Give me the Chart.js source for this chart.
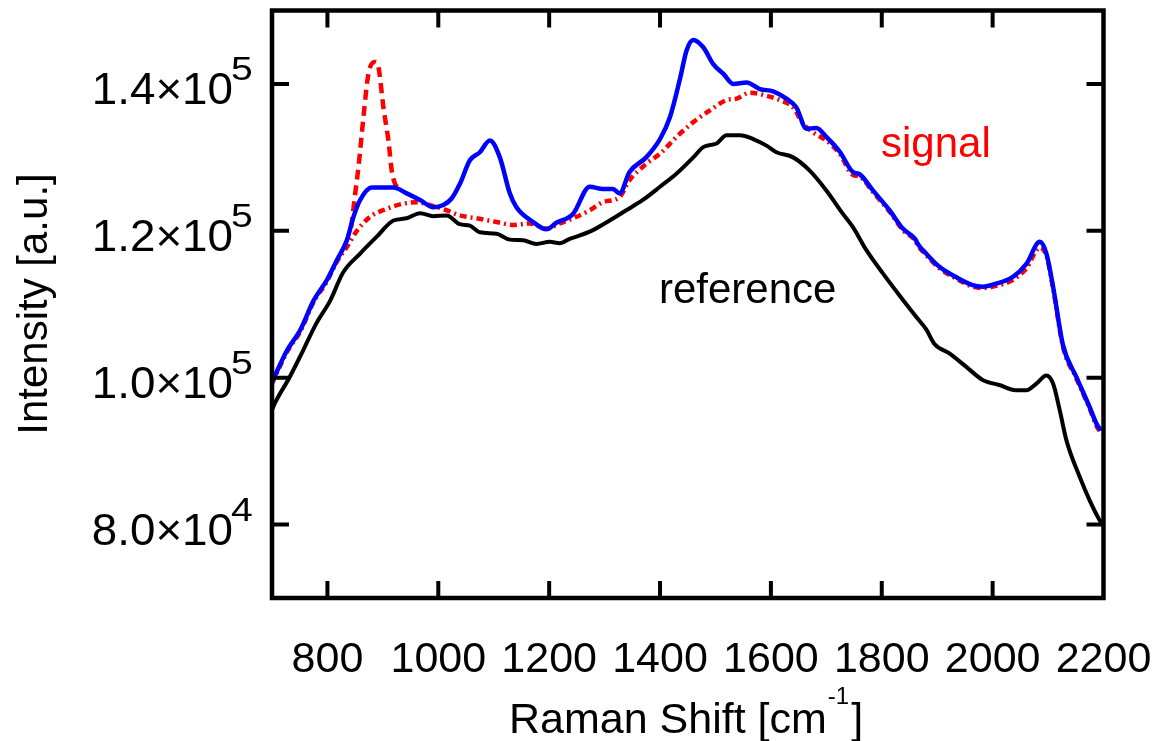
<!DOCTYPE html>
<html>
<head>
<meta charset="utf-8">
<script src="https://cdn.jsdelivr.net/npm/chart.js@4.4.1/dist/chart.umd.min.js"></script>
<style>
  html, body { margin: 0; padding: 0; background: #fff; }
  #wrap { width: 1156px; height: 741px; }
</style>
</head>
<body>
<div id="wrap"><canvas id="raman" width="1156" height="741"></canvas></div>
<script>
// reference spectrum (black)
const refShift = [700, 705, 732, 756, 780, 805, 828, 859, 889, 919, 943, 967, 991, 1015, 1039, 1057, 1075, 1105, 1129, 1153, 1177, 1201, 1219, 1237, 1249, 1279, 1309, 1339, 1369, 1400, 1430, 1460, 1478, 1502, 1520, 1544, 1568, 1592, 1610, 1640, 1670, 1700, 1730, 1748, 1772, 1802, 1832, 1862, 1880, 1895, 1922, 1952, 1982, 2012, 2042, 2061, 2079, 2097, 2109, 2121, 2133, 2157, 2175, 2193, 2200];
const refIntensity = [95600, 96500, 100100, 103700, 107400, 110500, 114300, 116900, 119200, 121400, 121700, 122400, 122000, 122100, 120900, 120700, 119800, 119600, 118800, 118700, 118200, 118500, 118300, 118900, 119200, 120100, 121400, 122800, 124200, 126000, 127800, 130000, 131400, 131900, 133000, 133000, 132500, 131600, 130700, 130000, 128200, 125500, 122300, 120500, 117400, 114200, 111200, 108300, 106600, 104600, 103300, 101500, 99700, 99000, 98300, 98300, 99200, 100300, 99200, 95600, 91500, 86500, 83300, 80600, 79800];

// measured spectrum (blue)
const specShift = [700, 727, 751, 775, 799, 817, 835, 847, 859, 880, 919, 943, 967, 991, 1009, 1024, 1039, 1057, 1075, 1093, 1111, 1129, 1141, 1171, 1195, 1213, 1243, 1273, 1297, 1315, 1327, 1345, 1375, 1400, 1418, 1436, 1448, 1460, 1478, 1496, 1514, 1532, 1556, 1580, 1604, 1628, 1646, 1664, 1682, 1700, 1724, 1748, 1760, 1784, 1814, 1838, 1860, 1866, 1880, 1904, 1934, 1964, 1982, 2006, 2036, 2061, 2085, 2097, 2109, 2127, 2151, 2175, 2187, 2195];
const specIntensity = [99400, 103700, 106500, 110500, 113300, 116000, 118700, 121900, 124200, 125900, 125900, 125100, 124200, 123200, 123500, 124400, 126400, 129600, 130700, 132300, 130000, 125100, 123200, 121200, 120200, 121100, 122300, 126000, 125700, 125700, 125100, 128000, 130000, 132500, 135500, 140700, 144600, 146000, 145000, 142700, 141400, 140000, 140200, 139300, 139000, 138000, 136800, 133900, 134000, 132800, 130800, 128000, 127700, 125500, 122800, 120300, 118900, 118100, 116900, 115100, 113700, 112600, 112400, 112800, 113700, 115500, 118500, 116900, 112400, 104400, 100100, 96000, 93800, 92800];

// signal baseline (red dash-dot)
const fitShift = [700, 727, 751, 775, 799, 817, 835, 853, 877, 907, 937, 961, 985, 1015, 1039, 1069, 1105, 1135, 1165, 1195, 1219, 1243, 1273, 1297, 1327, 1345, 1375, 1400, 1430, 1460, 1490, 1520, 1538, 1562, 1592, 1616, 1640, 1658, 1676, 1700, 1724, 1748, 1760, 1784, 1814, 1838, 1860, 1866, 1880, 1904, 1934, 1964, 1982, 2006, 2036, 2061, 2085, 2097, 2109, 2127, 2151, 2175, 2187, 2197];
const fitIntensity = [99200, 103500, 106300, 110300, 113100, 115800, 117800, 120000, 121900, 123000, 123700, 123900, 123500, 122800, 122100, 121700, 121200, 120800, 121000, 120300, 121000, 121700, 122800, 123900, 124600, 126900, 129100, 130500, 132800, 134800, 136400, 137800, 138000, 138800, 138400, 137800, 136800, 134600, 133400, 132300, 130500, 127600, 127400, 125300, 122600, 120100, 118700, 117900, 116700, 114900, 113500, 112400, 112200, 112500, 113300, 114900, 117700, 116600, 112200, 104200, 99900, 95800, 93500, 92300];

// signal peak near 890 (red dashed)
const peakShift = [843, 850, 856, 865, 874, 886, 892, 901, 910, 916, 922, 930];
const peakIntensity = [120500, 125000, 128700, 135500, 141400, 143000, 142300, 136800, 132300, 128200, 126400, 125800];

// axes
const xTicks = [800, 1000, 1200, 1400, 1600, 1800, 2000, 2200];
const yTicks = [80000, 100000, 120000, 140000];
const yTickMantissa = ['8.0', '1.0', '1.2', '1.4'];
const yTickExponent = ['4', '5', '5', '5'];

const FONT = '"Liberation Sans", Arial, Helvetica, sans-serif';

const toPoints = (xs, ys) => xs.map((x, i) => ({ x: x, y: ys[i] }));

// frame, inward ticks and all the text
const framePlugin = {
  id: 'frame',
  afterDraw(chart) {
    const ctx = chart.ctx;
    const a = chart.chartArea;
    const xs = chart.scales.x;
    const ys = chart.scales.y;
    const tick = 17;

    ctx.save();
    ctx.strokeStyle = '#000';
    ctx.lineWidth = 4.5;
    ctx.lineCap = 'square';
    ctx.strokeRect(a.left, a.top, a.right - a.left, a.bottom - a.top);

    ctx.lineWidth = 4;
    ctx.lineCap = 'butt';
    ctx.beginPath();
    xTicks.forEach((v) => {
      const px = xs.getPixelForValue(v);
      if (px >= a.right - 2) return;
      ctx.moveTo(px, a.bottom); ctx.lineTo(px, a.bottom - tick);
      ctx.moveTo(px, a.top); ctx.lineTo(px, a.top + tick);
    });
    yTicks.forEach((v) => {
      const py = ys.getPixelForValue(v);
      ctx.moveTo(a.left, py); ctx.lineTo(a.left + tick, py);
      ctx.moveTo(a.right, py); ctx.lineTo(a.right - tick, py);
    });
    ctx.stroke();

    ctx.fillStyle = '#000';
    ctx.textBaseline = 'alphabetic';

    // x tick labels
    ctx.font = '43px ' + FONT;
    ctx.textAlign = 'center';
    xTicks.forEach((v) => {
      ctx.fillText(String(v), xs.getPixelForValue(v), 672);
    });

    // y tick labels, m×10^e (slightly wide face)
    yTicks.forEach((v, i) => {
      const py = ys.getPixelForValue(v);
      ctx.save();
      ctx.translate(233, py + 20);
      ctx.scale(1.04, 1);
      ctx.font = '44px ' + FONT;
      ctx.textAlign = 'right';
      ctx.fillText(yTickMantissa[i] + '\u00d710', 0, 0);
      ctx.restore();
      ctx.save();
      ctx.translate(231, py - 4);
      ctx.scale(1.15, 1);
      ctx.font = '34px ' + FONT;
      ctx.textAlign = 'left';
      ctx.fillText(yTickExponent[i], 0, 0);
      ctx.restore();
    });

    // x title
    ctx.textAlign = 'left';
    ctx.font = '43px ' + FONT;
    const t1 = 'Raman Shift [cm';
    let x = 509;
    ctx.fillText(t1, x, 733);
    x += ctx.measureText(t1).width + 1;
    ctx.font = '24px ' + FONT;
    ctx.fillText('-1', x, 704);
    x += ctx.measureText('-1').width + 2;
    ctx.font = '43px ' + FONT;
    ctx.fillText(']', x, 733);

    // y title
    ctx.save();
    ctx.translate(47, 304);
    ctx.rotate(-Math.PI / 2);
    ctx.textAlign = 'center';
    ctx.font = '42px ' + FONT;
    ctx.fillText('Intensity [a.u.]', 0, 0);
    ctx.restore();

    // curve labels
    ctx.font = '42px ' + FONT;
    ctx.textAlign = 'left';
    ctx.fillStyle = '#ff0000';
    ctx.fillText('signal', 881, 157);
    ctx.fillStyle = '#000';
    ctx.fillText('reference', 659, 303);
    ctx.restore();
  }
};

new Chart(document.getElementById('raman'), {
  type: 'line',
  data: {
    datasets: [
      {
        label: 'reference',
        data: toPoints(refShift, refIntensity),
        borderColor: '#000000',
        borderWidth: 4,
        pointRadius: 0,
        cubicInterpolationMode: 'monotone',
        order: 4,
      },
      {
        label: 'signal baseline',
        data: toPoints(fitShift, fitIntensity),
        borderColor: '#ff0000',
        borderWidth: 4.5,
        borderDash: [7, 4, 2, 4],
        pointRadius: 0,
        cubicInterpolationMode: 'monotone',
        order: 3,
      },
      {
        label: 'signal peak',
        data: toPoints(peakShift, peakIntensity),
        borderColor: '#ff0000',
        borderWidth: 4.5,
        borderDash: [10, 6],
        pointRadius: 0,
        cubicInterpolationMode: 'monotone',
        order: 2,
      },
      {
        label: 'spectrum',
        data: toPoints(specShift, specIntensity),
        borderColor: '#0000ff',
        borderWidth: 4.5,
        pointRadius: 0,
        cubicInterpolationMode: 'monotone',
        order: 1,
      },
    ],
  },
  options: {
    responsive: false,
    animation: false,
    events: [],
    layout: { padding: { left: 272, right: 52.5, top: 10.5, bottom: 143 } },
    plugins: { legend: { display: false }, tooltip: { enabled: false } },
    scales: {
      x: { type: 'linear', min: 700, max: 2200, display: false },
      y: { type: 'linear', min: 70000, max: 150000, display: false },
    },
  },
  plugins: [framePlugin],
});
</script>
</body>
</html>
